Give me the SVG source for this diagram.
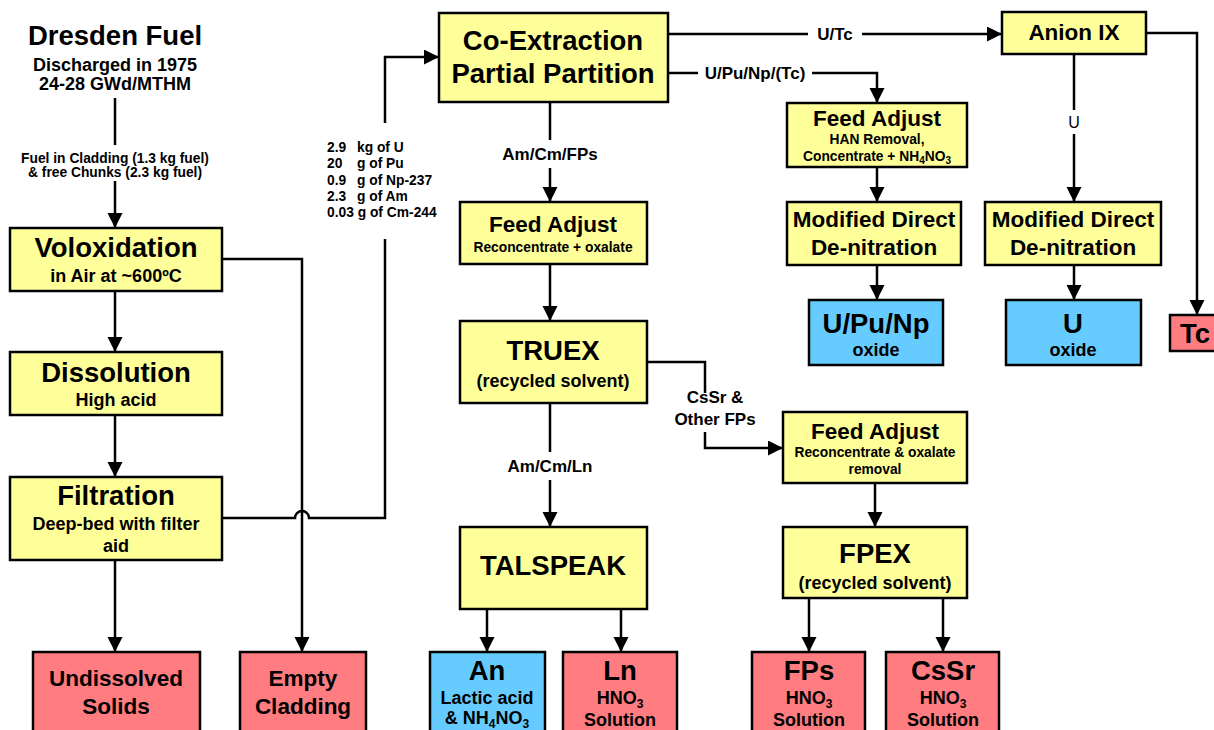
<svg xmlns="http://www.w3.org/2000/svg" width="1214" height="730" viewBox="0 0 1214 730">
<defs>
<marker id="ah" markerUnits="userSpaceOnUse" markerWidth="16" markerHeight="16" refX="15" refY="7.5" orient="auto">
<path d="M0,0 L15,7.5 L0,15 z" fill="#000"/>
</marker>
<style>
text{font-family:"Liberation Sans",Arial,sans-serif;font-weight:bold;fill:#000;text-anchor:middle}
.y{fill:#FFFF99;stroke:#000;stroke-width:2.5}
.r{fill:#FF7C80;stroke:#000;stroke-width:2.5}
.b{fill:#66CCFF;stroke:#000;stroke-width:2.5}
.c{fill:none;stroke:#000;stroke-width:2.5}
.a{marker-end:url(#ah)}
.big{font-size:27.5px}
.med{font-size:22.5px}
.sub{font-size:18px}
.sm{font-size:13.8px}
.st{text-anchor:start}
.lb{font-size:17px}
</style>
</defs>
<rect width="1214" height="730" fill="#fff"/>

<g id="connectors">
<path class="c" d="M115,98 V145"/>
<path class="c a" d="M115,181 V228"/>
<path class="c a" d="M115,291 V352"/>
<path class="c a" d="M115,415 V477"/>
<path class="c a" d="M115,560 V652"/>
<path class="c a" d="M222,259 H302 V652"/>
<path class="c" d="M222,518 H295 A7,7 0 0 1 309,518 H385 V239"/>
<path class="c a" d="M385,123 V57 H439"/>
<path class="c a" d="M668,34 H1002"/>
<path class="c a" d="M668,73 H877 V103"/>
<path class="c a" d="M877,167 V202"/>
<path class="c a" d="M877,265 V300"/>
<path class="c a" d="M1074,54 V202"/>
<path class="c a" d="M1074,265 V300"/>
<path class="c a" d="M1146,33 H1197 V315"/>
<path class="c a" d="M550,102 V202"/>
<path class="c a" d="M550,264 V321"/>
<path class="c a" d="M550,403 V527"/>
<path class="c" d="M647,362 H705 V393"/>
<path class="c a" d="M705,432 V448 H783"/>
<path class="c a" d="M875,483 V527"/>
<path class="c a" d="M487,609 V652"/>
<path class="c a" d="M621,609 V652"/>
<path class="c a" d="M809,598 V652"/>
<path class="c a" d="M943,598 V652"/>
<rect x="808" y="25" width="54" height="18" fill="#fff"/>
<text class="lb" x="835" y="40">U/Tc</text>
<rect x="698" y="64" width="114" height="18" fill="#fff"/>
<text class="lb" x="755" y="79">U/Pu/Np/(Tc)</text>
<rect x="498" y="140" width="104" height="28" fill="#fff"/>
<text class="lb" x="550" y="160">Am/Cm/FPs</text>
<rect x="500" y="452" width="100" height="28" fill="#fff"/>
<text class="lb" x="550" y="472">Am/Cm/Ln</text>
<text class="lb" x="715" y="403">CsSr &amp;</text>
<text class="lb" x="715" y="425">Other FPs</text>
<rect x="1064" y="110" width="20" height="24" fill="#fff"/>
<text x="1074" y="128" style="font-weight:normal;font-size:16px">U</text>
<text class="sm" x="115" y="163">Fuel in Cladding (1.3 kg fuel)</text>
<text class="sm" x="115" y="177">&amp; free Chunks (2.3 kg fuel)</text>
<text class="sm st" x="327" y="152">2.9</text><text class="sm st" x="357" y="152">kg of U</text>
<text class="sm st" x="327" y="168">20</text><text class="sm st" x="357" y="168">g of Pu</text>
<text class="sm st" x="327" y="185">0.9</text><text class="sm st" x="357" y="185">g of Np-237</text>
<text class="sm st" x="327" y="201">2.3</text><text class="sm st" x="357" y="201">g of Am</text>
<text class="sm st" x="327" y="217">0.03 g of Cm-244</text>
</g>

<g id="dresden">
<text class="big" x="115" y="45">Dresden Fuel</text>
<text class="sub" x="115" y="71">Discharged in 1975</text>
<text class="sub" x="115" y="90">24-28 GWd/MTHM</text>
</g>
<g id="voloxidation">
<rect class="y" x="10" y="228" width="212" height="63"/>
<text class="big" x="116" y="257">Voloxidation</text>
<text class="sub" x="116" y="282">in Air at ~600ºC</text>
</g>
<g id="dissolution">
<rect class="y" x="10" y="352" width="212" height="63"/>
<text class="big" x="116" y="382">Dissolution</text>
<text class="sub" x="116" y="406">High acid</text>
</g>
<g id="filtration">
<rect class="y" x="10" y="477" width="212" height="83"/>
<text class="big" x="116" y="505">Filtration</text>
<text class="sub" x="116" y="530">Deep-bed with filter</text>
<text class="sub" x="116" y="552">aid</text>
</g>
<g id="undissolved">
<rect class="r" x="33" y="652" width="167" height="90"/>
<text class="med" x="116" y="686">Undissolved</text>
<text class="med" x="116" y="714">Solids</text>
</g>
<g id="cladding">
<rect class="r" x="240" y="652" width="126" height="90"/>
<text class="med" x="303" y="686">Empty</text>
<text class="med" x="303" y="714">Cladding</text>
</g>
<g id="coextraction">
<rect class="y" x="439" y="13" width="229" height="89"/>
<text class="big" x="553" y="50">Co-Extraction</text>
<text class="big" x="553" y="83">Partial Partition</text>
</g>
<g id="feedadjust1">
<rect class="y" x="460" y="202" width="187" height="62"/>
<text class="med" x="553" y="232">Feed Adjust</text>
<text class="sm" x="553" y="252">Reconcentrate + oxalate</text>
</g>
<g id="truex">
<rect class="y" x="460" y="321" width="187" height="82"/>
<text class="big" x="553" y="360">TRUEX</text>
<text class="sub" x="553" y="387">(recycled solvent)</text>
</g>
<g id="talspeak">
<rect class="y" x="460" y="527" width="187" height="82"/>
<text class="big" x="553" y="575">TALSPEAK</text>
</g>
<g id="an">
<rect class="b" x="430" y="652" width="115" height="90"/>
<text class="big" x="487" y="680">An</text>
<text class="sub" x="487" y="704">Lactic acid</text>
<text class="sub" x="487" y="724">&amp; NH<tspan font-size="12" dy="4">4</tspan><tspan dy="-4">NO</tspan><tspan font-size="12" dy="4">3</tspan></text>
</g>
<g id="ln">
<rect class="r" x="563" y="652" width="114" height="90"/>
<text class="big" x="620" y="680">Ln</text>
<text class="sub" x="620" y="704">HNO<tspan font-size="12" dy="4">3</tspan></text>
<text class="sub" x="620" y="726">Solution</text>
</g>
<g id="feedadjust2">
<rect class="y" x="787" y="103" width="180" height="64"/>
<text class="med" x="877" y="126">Feed Adjust</text>
<text class="sm" x="877" y="144">HAN Removal,</text>
<text class="sm" x="877" y="161">Concentrate + NH<tspan font-size="10" dy="3">4</tspan><tspan dy="-3">NO</tspan><tspan font-size="10" dy="3">3</tspan></text>
</g>
<g id="mdd1">
<rect class="y" x="787" y="202" width="174" height="63"/>
<text class="med" x="874" y="227">Modified Direct</text>
<text class="med" x="874" y="255">De-nitration</text>
</g>
<g id="upunp">
<rect class="b" x="809" y="300" width="134" height="65"/>
<text class="big" x="876" y="333">U/Pu/Np</text>
<text class="sub" x="876" y="356">oxide</text>
</g>
<g id="anion">
<rect class="y" x="1002" y="12" width="144" height="42"/>
<text class="med" x="1074" y="40">Anion IX</text>
</g>
<g id="mdd2">
<rect class="y" x="985" y="202" width="176" height="63"/>
<text class="med" x="1073" y="227">Modified Direct</text>
<text class="med" x="1073" y="255">De-nitration</text>
</g>
<g id="uoxide">
<rect class="b" x="1006" y="300" width="135" height="65"/>
<text class="big" x="1073" y="333">U</text>
<text class="sub" x="1073" y="356">oxide</text>
</g>
<g id="tc">
<rect class="r" x="1170" y="315" width="60" height="36"/>
<text class="big" x="1195" y="343">Tc</text>
</g>
<g id="feedadjust3">
<rect class="y" x="783" y="412" width="184" height="71"/>
<text class="med" x="875" y="439">Feed Adjust</text>
<text class="sm" x="875" y="457">Reconcentrate &amp; oxalate</text>
<text class="sm" x="875" y="474">removal</text>
</g>
<g id="fpex">
<rect class="y" x="783" y="527" width="184" height="71"/>
<text class="big" x="875" y="563">FPEX</text>
<text class="sub" x="875" y="589">(recycled solvent)</text>
</g>
<g id="fps">
<rect class="r" x="752" y="652" width="113" height="90"/>
<text class="big" x="809" y="680">FPs</text>
<text class="sub" x="809" y="704">HNO<tspan font-size="12" dy="4">3</tspan></text>
<text class="sub" x="809" y="726">Solution</text>
</g>
<g id="cssr">
<rect class="r" x="886" y="652" width="113" height="90"/>
<text class="big" x="943" y="680">CsSr</text>
<text class="sub" x="943" y="704">HNO<tspan font-size="12" dy="4">3</tspan></text>
<text class="sub" x="943" y="726">Solution</text>
</g>
</svg>
